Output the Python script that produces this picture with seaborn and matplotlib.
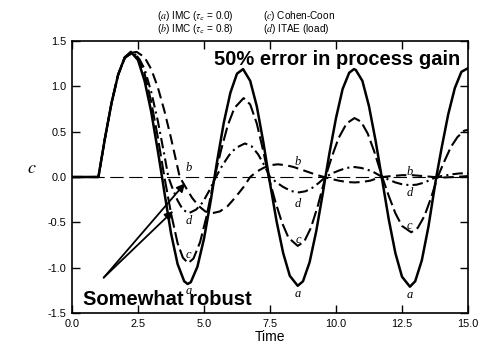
import matplotlib
matplotlib.use('Agg')
import matplotlib.pyplot as plt
from matplotlib.ticker import FormatStrFormatter
import seaborn as sns

# values (time, controlled variable c)
# (a) IMC tau_c = 0.0 -- solid
a_t = [0, 1.0, 1.25, 1.5, 1.75, 2.0, 2.23, 2.5, 2.75, 3.0, 3.25, 3.41, 3.5, 3.75, 4.0, 4.25, 4.38,
       4.5, 4.75, 5.0, 5.25, 5.4, 5.5, 5.75, 6.0, 6.25, 6.48, 6.75, 7.0, 7.25, 7.46, 7.75, 8.0, 8.25,
       8.55, 8.75, 9.0, 9.25, 9.5, 9.6, 9.75, 10.0, 10.25, 10.5, 10.68, 10.75, 11.0, 11.25, 11.5,
       11.73, 12.0, 12.25, 12.5, 12.8, 13.0, 13.25, 13.5, 13.75, 13.8, 14.0, 14.25, 14.5, 14.75, 15.0]
a_c = [0, 0, 0.43, 0.82, 1.13, 1.32, 1.38, 1.29, 1.06, 0.72, 0.29, 0, -0.17, -0.62, -0.96, -1.15, -1.18,
       -1.16, -0.99, -0.68, -0.27, 0, 0.18, 0.60, 0.93, 1.14, 1.19, 1.06, 0.78, 0.38, 0, -0.49, -0.84, -1.09,
       -1.20, -1.15, -0.94, -0.60, -0.18, 0, 0.26, 0.65, 0.97, 1.15, 1.19, 1.18, 1.06, 0.78, 0.40,
       0, -0.47, -0.84, -1.10, -1.21, -1.15, -0.92, -0.55, -0.09, 0, 0.32, 0.69, 0.98, 1.16, 1.20]

# (b) IMC tau_c = 0.8 -- dashed
b_t = [0, 1.0, 1.25, 1.5, 1.75, 2.0, 2.25, 2.45, 2.75, 3.0, 3.25, 3.5, 3.75, 4.08, 4.3, 4.55, 4.8, 5.05,
       5.3, 5.6, 5.9, 6.2, 6.5, 6.75, 7.0, 7.25, 7.5, 7.8, 8.1, 8.4, 8.7, 9.0, 9.3, 9.55, 9.8, 10.1,
       10.4, 10.7, 11.0, 11.3, 11.5, 11.75, 12.1, 12.5, 12.9, 13.3, 13.7, 14.1, 14.5, 15.0]
b_c = [0, 0, 0.43, 0.82, 1.13, 1.31, 1.37, 1.38, 1.32, 1.19, 0.99, 0.73, 0.43, 0, -0.11, -0.23, -0.32, -0.38,
       -0.40, -0.38, -0.32, -0.22, -0.11, 0, 0.06, 0.10, 0.13, 0.14, 0.13, 0.11, 0.08, 0.05, 0.02, 0, -0.02, -0.04,
       -0.055, -0.06, -0.055, -0.04, -0.02, 0, 0.01, 0.02, 0.02, 0.01, 0, -0.005, 0, 0.01]

# (c) Cohen-Coon -- long dashes
c_t = [0, 1.0, 1.25, 1.5, 1.75, 2.0, 2.3, 2.5, 2.75, 3.0, 3.25, 3.5, 3.75, 4.0, 4.2, 4.4, 4.6, 4.85, 5.1,
       5.4, 5.65, 5.9, 6.15, 6.5, 6.75, 7.0, 7.25, 7.45, 7.7, 7.95, 8.2, 8.55, 8.8, 9.05, 9.3, 9.6, 9.85,
       10.1, 10.4, 10.7, 10.95, 11.2, 11.45, 11.75, 12.0, 12.25, 12.5, 12.85, 13.1, 13.35, 13.6, 13.85,
       14.1, 14.35, 14.6, 14.85, 15.0]
c_c = [0, 0, 0.43, 0.82, 1.13, 1.32, 1.37, 1.32, 1.14, 0.83, 0.44, 0, -0.40, -0.73, -0.89, -0.95, -0.90, -0.72, -0.43,
       0, 0.30, 0.57, 0.76, 0.87, 0.80, 0.59, 0.28, 0, -0.27, -0.50, -0.67, -0.76, -0.71, -0.56, -0.33, 0, 0.23,
       0.43, 0.59, 0.65, 0.61, 0.48, 0.28, 0, -0.21, -0.40, -0.54, -0.61, -0.56, -0.43, -0.23, 0,
       0.17, 0.33, 0.44, 0.51, 0.52]

# (d) ITAE (load) -- dash-dot
d_t = [0, 1.0, 1.25, 1.5, 1.75, 2.0, 2.3, 2.5, 2.75, 3.0, 3.25, 3.5, 3.65, 3.8, 4.0, 4.2, 4.42, 4.7, 4.95,
       5.2, 5.45, 5.7, 5.95, 6.2, 6.55, 6.8, 7.05, 7.3, 7.5, 7.75, 8.0, 8.3, 8.6, 8.85, 9.1, 9.35, 9.6,
       9.85, 10.1, 10.4, 10.7, 10.95, 11.2, 11.45, 11.75, 12.0, 12.25, 12.5, 12.8, 13.05, 13.3, 13.55,
       13.8, 14.1, 14.4, 14.7, 15.0]
d_c = [0, 0, 0.43, 0.82, 1.13, 1.32, 1.37, 1.33, 1.19, 0.94, 0.62, 0.24, 0, -0.12, -0.26, -0.36, -0.40, -0.36, -0.28,
       -0.15, 0, 0.13, 0.24, 0.32, 0.37, 0.34, 0.25, 0.12, 0, -0.06, -0.11, -0.155, -0.17, -0.157, -0.12, -0.065, 0,
       0.04, 0.07, 0.10, 0.11, 0.10, 0.08, 0.05, 0, -0.03, -0.06, -0.08, -0.09, -0.085, -0.065, -0.035,
       0, 0.015, 0.03, 0.04, 0.04]

# where the curve letters sit: (letter, t, c)
curve_labels = [('b', 4.41, 0.10), ('d', 4.41, -0.49), ('c', 4.41, -0.86), ('a', 4.41, -1.26),
                ('b', 8.56, 0.165), ('d', 8.56, -0.30), ('c', 8.56, -0.70), ('a', 8.56, -1.29),
                ('b', 12.78, 0.06), ('d', 12.78, -0.18), ('c', 12.78, -0.54), ('a', 12.8, -1.30)]

x_ticks = [0, 2.5, 5.0, 7.5, 10.0, 12.5, 15.0]
y_ticks = [-1.5, -1.0, -0.5, 0.0, 0.5, 1.0, 1.5]

arrow_tail = (1.2, -1.11)
arrow_heads = [(4.28, -0.07), (3.83, -0.375)]

sns.set_style('ticks')
plt.rcParams['font.family'] = ['Liberation Sans', 'DejaVu Sans']
plt.rcParams['mathtext.fontset'] = 'stix'
for key in ['text.color', 'axes.labelcolor', 'xtick.color', 'ytick.color', 'axes.edgecolor']:
    plt.rcParams[key] = 'black'

W, H = 486, 346
fig = plt.figure(figsize=(W / 100, H / 100), dpi=100)
ax = fig.add_axes([72 / W, 33 / H, 396 / W, 272 / H])

# set point line
ax.axhline(0, color='black', lw=0.8, ls=(0, (12, 5)), zorder=1)

sns.lineplot(x=b_t, y=b_c, ax=ax, color='black', lw=1.5, ls=(0, (5, 2.6)), estimator=None, sort=False)
sns.lineplot(x=c_t, y=c_c, ax=ax, color='black', lw=1.5, ls=(0, (6.5, 2.2)), estimator=None, sort=False)
sns.lineplot(x=d_t, y=d_c, ax=ax, color='black', lw=1.5, ls=(0, (5, 2, 1, 2)), estimator=None, sort=False)
sns.lineplot(x=a_t, y=a_c, ax=ax, color='black', lw=1.8, estimator=None, sort=False)

for letter, t, c in curve_labels:
    ax.text(t, c, letter, ha='center', va='center', fontsize=9,
            fontfamily='Liberation Serif', fontstyle='italic')

for head in arrow_heads:
    ax.annotate('', xy=head, xytext=arrow_tail,
                arrowprops=dict(arrowstyle='-|>', color='black', lw=1.3,
                                mutation_scale=12, shrinkA=0, shrinkB=0))

ax.set_xlim(0, 15)
ax.set_ylim(-1.5, 1.5)
ax.set_xticks(x_ticks)
ax.set_yticks(y_ticks)
ax.xaxis.set_major_formatter(FormatStrFormatter('%.1f'))
ax.yaxis.set_major_formatter(FormatStrFormatter('%.1f'))
ax.tick_params(direction='in', length=6, width=1, top=True, right=True, labelsize=7.8, pad=4)
for sp in ax.spines.values():
    sp.set_linewidth(1.2)

ax.set_xlabel('Time', fontsize=10, labelpad=1)
ax.set_ylabel('$c$', fontsize=13, rotation=0)
ax.yaxis.set_label_coords(-0.102, 0.5)

# legend-like header
fig.text(157 / W, 1 - 16 / H, r'($a$) IMC ($\tau_\mathsf{c}$ = 0.0)', fontsize=7.2, va='center')
fig.text(263 / W, 1 - 16 / H, r'($c$) Cohen-Coon', fontsize=7.2, va='center')
fig.text(157 / W, 1 - 29 / H, r'($b$) IMC ($\tau_\mathsf{c}$ = 0.8)', fontsize=7.2, va='center')
fig.text(263 / W, 1 - 29 / H, r'($d$) ITAE (load)', fontsize=7.2, va='center')

fig.text(460 / W, 1 - 65 / H, '50% error in process gain', ha='right', va='baseline',
         fontsize=14.5, fontweight='bold')
fig.text(83 / W, 1 - 305 / H, 'Somewhat robust', ha='left', va='baseline',
         fontsize=14.5, fontweight='bold')

fig.savefig('out.png', dpi=100)
